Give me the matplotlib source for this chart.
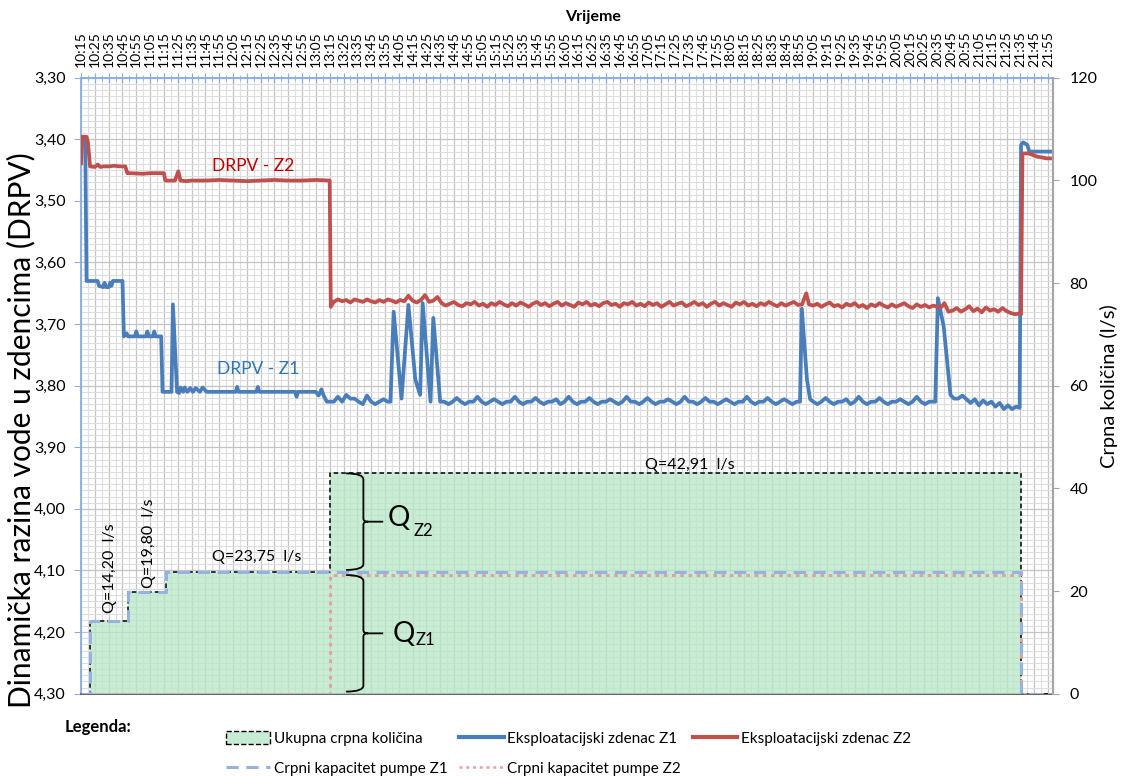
import numpy as np
import matplotlib
matplotlib.use("Agg")
import matplotlib.pyplot as plt
from matplotlib.path import Path
from matplotlib.patches import PathPatch, Patch
from matplotlib.lines import Line2D
from matplotlib.ticker import MultipleLocator

plt.rcParams["font.family"] = ["Lato", "DejaVu Sans"]

# x os: minute od 10:15, oznake svakih 10 min
TIME_LABELS = [f"{(615 + 10 * i) // 60}:{(615 + 10 * i) % 60:02d}" for i in range(71)]
X_END = 703.6

# DRPV - Z1 (m)
Z1_T_START = [0, 1, 3, 4, 12, 13, 16, 17, 18, 20, 21, 22, 23, 30, 31, 33, 34, 39, 40, 41,
              47, 48, 49, 52, 53, 54, 58, 59, 62, 65.5, 66.5, 69.5, 71, 72, 74, 75, 77, 79,
              81, 83, 86, 88, 91, 93, 112, 113, 114, 127, 128, 129, 155, 156, 157, 170,
              172, 174, 176, 178]
Z1_V_START = [3.400, 3.396, 3.400, 3.630, 3.630, 3.638, 3.640, 3.633, 3.640, 3.640, 3.633,
              3.638, 3.630, 3.630, 3.720, 3.715, 3.720, 3.720, 3.712, 3.720, 3.720, 3.712,
              3.720, 3.720, 3.712, 3.720, 3.720, 3.810, 3.810, 3.810, 3.668, 3.810, 3.812,
              3.803, 3.810, 3.803, 3.810, 3.804, 3.810, 3.804, 3.810, 3.803, 3.810, 3.810,
              3.810, 3.802, 3.810, 3.810, 3.802, 3.810, 3.810, 3.818, 3.810, 3.810, 3.816,
              3.806, 3.818, 3.826]
Z1_V_N1 = [3.826, 3.826, 3.818, 3.826, 3.815, 3.821, 3.821, 3.826, 3.830, 3.816, 3.826,
           3.830, 3.826, 3.822, 3.826]
Z1_T_SPIKES1 = [224, 226.3, 232, 237, 242, 245.5, 247.3, 253, 255, 260]
Z1_V_SPIKES1 = [3.826, 3.680, 3.821, 3.669, 3.790, 3.815, 3.666, 3.826, 3.690, 3.826]
Z1_V_N2 = [3.826, 3.830, 3.826, 3.820, 3.826, 3.830, 3.826, 3.826, 3.818, 3.826,
           3.830, 3.826, 3.822, 3.826, 3.830, 3.826, 3.826, 3.818, 3.826, 3.830,
           3.826, 3.826, 3.820, 3.826, 3.830, 3.826, 3.826, 3.822, 3.830, 3.826,
           3.818, 3.826, 3.830, 3.826, 3.826, 3.820, 3.826, 3.830, 3.826, 3.826,
           3.822, 3.826, 3.830, 3.826, 3.818, 3.826, 3.826, 3.830, 3.826, 3.820,
           3.826, 3.830, 3.826, 3.826, 3.822, 3.826, 3.830, 3.826, 3.818, 3.826,
           3.826, 3.830, 3.826, 3.820, 3.826, 3.826, 3.830, 3.826, 3.822, 3.826,
           3.830, 3.826, 3.826, 3.818, 3.826, 3.830, 3.826, 3.826, 3.820, 3.826,
           3.830, 3.826, 3.822, 3.826, 3.830, 3.826]
Z1_T_SPIKE2 = [520.5, 521.8, 525.5, 527.8]
Z1_V_SPIKE2 = [3.826, 3.675, 3.790, 3.822]
Z1_V_N3 = [3.826, 3.830, 3.826, 3.820, 3.826, 3.830, 3.826, 3.826, 3.822, 3.830,
           3.826, 3.818, 3.826, 3.830, 3.826, 3.826, 3.820, 3.826, 3.830, 3.826,
           3.826, 3.822, 3.826, 3.830, 3.826, 3.818, 3.826, 3.830, 3.826, 3.826]
Z1_T_SPIKE3 = [618.4, 620.3, 624.5, 629.4]
Z1_V_SPIKE3 = [3.826, 3.658, 3.704, 3.815]
Z1_V_N4 = [3.821, 3.821, 3.816, 3.822, 3.828, 3.822, 3.832, 3.824, 3.830, 3.826,
           3.834, 3.828, 3.838, 3.832, 3.838, 3.834]
Z1_T_END = [679.5, 680.5, 682, 685, 686.5, 701.7]
Z1_V_END = [3.836, 3.409, 3.405, 3.409, 3.420, 3.420]

# DRPV - Z2 (m)
Z2_T_START = [0, 1, 4, 5, 6.5, 10, 12, 14, 16, 20, 24, 28, 32, 33.5, 35, 45, 50, 55, 60,
              61, 64, 68, 70.4, 72, 76, 80, 90, 100, 110, 120, 130, 140, 150, 160, 170,
              180, 180.8]
Z2_V_START = [3.439, 3.396, 3.396, 3.405, 3.444, 3.445, 3.441, 3.445, 3.444, 3.444, 3.443,
              3.444, 3.444, 3.455, 3.455, 3.456, 3.455, 3.455, 3.455, 3.467, 3.467, 3.467,
              3.452, 3.467, 3.468, 3.467, 3.467, 3.466, 3.467, 3.468, 3.467, 3.466, 3.467,
              3.467, 3.466, 3.467, 3.672]
Z2_V_N1 = [3.664, 3.660, 3.663, 3.661, 3.665, 3.660, 3.662, 3.664, 3.660, 3.663,
           3.665, 3.661, 3.664, 3.660, 3.662, 3.665, 3.661, 3.663, 3.654, 3.662,
           3.665, 3.661, 3.653, 3.664, 3.662, 3.656,
           3.666, 3.670, 3.667, 3.664, 3.669, 3.671, 3.666, 3.668, 3.664, 3.670,
           3.667, 3.672, 3.666, 3.669, 3.664, 3.668, 3.671, 3.666, 3.670, 3.665,
           3.668, 3.672, 3.667, 3.664, 3.669, 3.666, 3.671, 3.667, 3.664, 3.670,
           3.666, 3.669, 3.672, 3.665, 3.668, 3.664, 3.670, 3.667, 3.671, 3.666,
           3.664, 3.669, 3.667, 3.672, 3.666, 3.668, 3.664, 3.670, 3.667, 3.671,
           3.665, 3.669, 3.666, 3.672, 3.668, 3.664, 3.670, 3.667, 3.665, 3.671,
           3.668, 3.664, 3.669, 3.666, 3.672, 3.667, 3.664, 3.670, 3.666, 3.669,
           3.672, 3.665, 3.668, 3.664, 3.670, 3.667, 3.671, 3.666, 3.669, 3.664,
           3.668, 3.671, 3.666, 3.670, 3.667, 3.664, 3.669]
Z2_T_BLIP = [522, 525, 527]
Z2_V_BLIP = [3.668, 3.650, 3.668]
Z2_V_N2 = [3.670, 3.667, 3.672, 3.668, 3.665, 3.671, 3.669, 3.673, 3.667, 3.670,
           3.666, 3.672, 3.669, 3.674, 3.668, 3.671, 3.666, 3.670, 3.673, 3.668,
           3.672, 3.669, 3.666, 3.671, 3.674, 3.668, 3.672, 3.669, 3.673, 3.670, 3.672]
Z2_T_MID = [623, 625, 628]
Z2_V_MID = [3.672, 3.666, 3.680]
Z2_V_N3 = [3.678, 3.674, 3.680, 3.676, 3.671, 3.679, 3.675, 3.681, 3.673, 3.678,
           3.676, 3.680, 3.674, 3.679]
Z2_T_END = [673, 676, 679, 680.5, 681.5, 686, 692, 699, 703.6]
Z2_V_END = [3.682, 3.684, 3.683, 3.684, 3.423, 3.423, 3.428, 3.431, 3.431]

# crpne kolicine (l/s)
Q_T = [0, 6.5, 34.3, 61.5, 180.3, 680.5, 703.6]
Q_TOTAL = [0, 14.20, 19.80, 23.75, 42.91, 0, 0]
Q_PUMP_Z1 = [0, 14.20, 19.80, 23.75, 23.75, 0, 0]
Q_PUMP_Z2 = [0, 0, 0, 0, 23.2, 0, 0]

C_Z1 = "#4a7ebb"
C_Z2 = "#c0504d"
C_FILL = "#b8e8c6"
C_AXIS = "#86aee0"

z1_t = np.concatenate([Z1_T_START, np.arange(180, 223, 3), Z1_T_SPIKES1, np.arange(263, 519, 3),
                       Z1_T_SPIKE2, np.arange(530, 618, 3), Z1_T_SPIKE3, np.arange(632, 678, 3), Z1_T_END])
z1_v = np.concatenate([Z1_V_START, Z1_V_N1, Z1_V_SPIKES1, Z1_V_N2, Z1_V_SPIKE2, Z1_V_N3,
                       Z1_V_SPIKE3, Z1_V_N4, Z1_V_END])
z2_t = np.concatenate([Z2_T_START, np.arange(183, 520, 3), Z2_T_BLIP, np.arange(530, 621, 3),
                       Z2_T_MID, np.arange(631, 671, 3), Z2_T_END])
z2_v = np.concatenate([Z2_V_START, Z2_V_N1, Z2_V_BLIP, Z2_V_N2, Z2_V_MID, Z2_V_N3, Z2_V_END])


def brace(ax, x_tip, x_line, x_cusp, x_stem, y_top, y_bot, r=1.2, rc=0.6):
    y_mid = (y_top + y_bot) / 2
    verts = [(x_tip, y_top), (x_line, y_top), (x_line, y_top - r),
             (x_line, y_mid + rc), (x_line, y_mid), (x_cusp, y_mid),
             (x_line, y_mid), (x_line, y_mid - rc),
             (x_line, y_bot + r), (x_line, y_bot), (x_tip, y_bot),
             (x_cusp, y_mid), (x_stem, y_mid)]
    codes = [Path.MOVETO, Path.CURVE3, Path.CURVE3,
             Path.LINETO, Path.CURVE3, Path.CURVE3,
             Path.CURVE3, Path.CURVE3,
             Path.LINETO, Path.CURVE3, Path.CURVE3,
             Path.MOVETO, Path.LINETO]
    ax.add_patch(PathPatch(Path(verts, codes), facecolor="none", edgecolor="black", lw=1.3,
                           zorder=6))
    return y_mid


fig = plt.figure(figsize=(11.21, 7.76), dpi=100)
ax = fig.add_axes([0.0723, 0.1061, 0.867, 0.7938])
ax2 = ax.twinx()

# lijeva os - DRPV
ax.plot(z1_t, z1_v, color=C_Z1, lw=2.7, zorder=4)
ax.plot(z2_t, z2_v, color=C_Z2, lw=2.7, zorder=4)
ax.set_xlim(0, X_END)
ax.set_ylim(4.30, 3.30)

ax.xaxis.tick_top()
ax.set_xticks(np.arange(len(TIME_LABELS)) * 10)
ax.set_xticklabels(TIME_LABELS, rotation=90)
ax.xaxis.set_minor_locator(MultipleLocator(5))
ax.tick_params(axis="x", which="major", direction="inout", length=7, color=C_AXIS,
               labelsize=10, pad=4)
ax.tick_params(axis="x", which="minor", direction="inout", length=5, color=C_AXIS)

y_ticks = np.round(np.arange(3.30, 4.301, 0.10), 2)
ax.set_yticks(y_ticks)
ax.set_yticklabels([f"{v:.2f}".replace(".", ",") for v in y_ticks])
ax.yaxis.set_minor_locator(MultipleLocator(0.01))
ax.tick_params(axis="y", which="major", direction="out", length=5, color=C_AXIS,
               labelsize=11.5, pad=6)
ax.tick_params(axis="y", which="minor", length=0)

ax.grid(which="major", color="#c4c4c4", lw=0.9)
ax.grid(which="minor", color="#dedede", lw=0.8)
ax.set_axisbelow(True)

ax.spines["left"].set_color(C_AXIS)
ax.spines["top"].set_color(C_AXIS)
ax.spines["left"].set_linewidth(1.3)
ax.spines["top"].set_linewidth(1.3)
ax.spines["right"].set_visible(False)
ax.spines["bottom"].set_color("#595959")
ax.spines["bottom"].set_linewidth(1.3)

ax.set_ylabel("Dinamička razina vode u zdencima (DRPV)", fontsize=21.5)
ax.yaxis.set_label_coords(-0.0465, 0.428)

ax.text(124.5, 3.443, "DRPV - Z2", color="#c00000", fontsize=12.5, ha="center", va="center")
ax.text(128.4, 3.773, "DRPV - Z1", color="#2e75b6", fontsize=12.5, ha="center", va="center")

# desna os - crpna kolicina
ax2.fill_between(Q_T, Q_TOTAL, step="post", color=C_FILL, alpha=0.75, lw=0, zorder=1)
ax2.step(Q_T, Q_TOTAL, where="post", color="black", ls=(0, (3, 2)), lw=1.1, zorder=2)
ax2.step(Q_T, Q_PUMP_Z2, where="post", color="#e6a0a0", ls=(0, (1.2, 1.5)), lw=2.2, zorder=3)
ax2.step(Q_T, Q_PUMP_Z1, where="post", color="#95b3e0", ls=(0, (4, 2.5)), lw=2.2, zorder=3)
ax2.set_ylim(0, 120)
ax2.set_xlim(0, X_END)
ax2.set_yticks(np.arange(0, 121, 20))
ax2.tick_params(axis="y", direction="out", length=4, color="#a6a6a6", labelsize=11.5, pad=8)
for side in ["left", "top", "bottom"]:
    ax2.spines[side].set_visible(False)
ax2.spines["right"].set_color("#a6a6a6")
ax2.spines["right"].set_linewidth(1.6)
ax2.set_ylabel("Crpna količina (l/s)", fontsize=14.5)
ax2.yaxis.set_label_coords(1.0484, 0.5)

ax2.text(441, 44.6, "Q=42,91  l/s", fontsize=11.5, ha="center", va="center")
ax2.text(127.4, 26.6, "Q=23,75  l/s", fontsize=11.5, ha="center", va="center")
ax2.text(21, 24.4, "Q=14,20  l/s", fontsize=11.5, ha="center", va="center", rotation=90)
ax2.text(49.2, 29.3, "Q=19,80  l/s", fontsize=11.5, ha="center", va="center", rotation=90)

ym = brace(ax2, 191.9, 204.4, 207.8, 218.7, 42.91, 24.1)
ax2.text(222.3, ym + 0.7, "Q", fontsize=20, ha="left", va="center")
ax2.text(240.5, ym - 1.8, "Z2", fontsize=12, ha="left", va="center")
ym = brace(ax2, 191.9, 204.4, 207.8, 218.7, 23.1, 0.4)
ax2.text(225.9, ym - 0.2, "Q", fontsize=20, ha="left", va="center")
ax2.text(242.0, ym - 1.3, "Z1", fontsize=12, ha="left", va="center")

fig.text(593 / 1121, 1 - 17 / 776, "Vrijeme", fontsize=11.5, fontweight="bold",
         ha="center", va="center")
fig.text(65 / 1121, 1 - 727 / 776, "Legenda:", fontsize=12, fontweight="bold",
         ha="left", va="center")

handles = [
    Patch(facecolor="#c6ecd3", edgecolor="black", linestyle="--", lw=1),
    Line2D([], [], color="#95b3e0", ls=(0, (4, 2.5)), lw=2.2),
    Line2D([], [], color=C_Z1, lw=3),
    Line2D([], [], color="#e6a0a0", ls=(0, (1.2, 1.5)), lw=1.8),
    Line2D([], [], color=C_Z2, lw=3),
]
labels = ["Ukupna crpna količina", "Crpni kapacitet pumpe Z1", "Eksploatacijski zdenac Z1",
          "Crpni kapacitet pumpe Z2", "Eksploatacijski zdenac Z2"]
fig.legend(handles, labels, ncol=3, loc="upper left", bbox_to_anchor=(226 / 1121, 1 - 731 / 776),
           frameon=False, fontsize=11, borderpad=0, borderaxespad=0, handlelength=2.9,
           handletextpad=0.25, columnspacing=0.75, labelspacing=1.05, handleheight=0.9)

fig.savefig("out.png", dpi=100)
